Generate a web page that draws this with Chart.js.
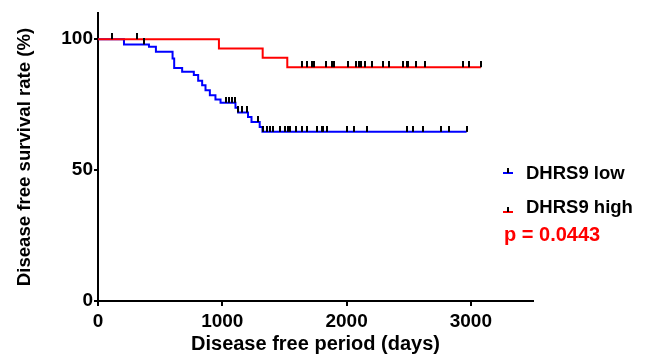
<!DOCTYPE html>
<html>
<head>
<meta charset="utf-8">
<script src="https://cdn.jsdelivr.net/npm/chart.js@4.4.1/dist/chart.umd.min.js"></script>
<style>
  body { margin: 0; background: #fff; }
  #wrap { position: relative; width: 650px; height: 359px; font-family: "Liberation Sans", Arial, sans-serif; font-weight: bold; }
  .leg { position: absolute; line-height: 1; white-space: nowrap; }
  .sym { position: absolute; width: 10px; height: 2px; }
  .sym i { position: absolute; left: 4px; top: -4px; width: 2px; height: 5px; background: #000; }
</style>
</head>
<body>
<div id="wrap">
  <canvas id="km" width="650" height="359"></canvas>
  <div class="sym" style="left:503px; top:172px; background:#0000ff"><i></i></div>
  <div class="leg" style="left:526px; top:163.6px; font-size:18.5px; color:#000">DHRS9 low</div>
  <div class="sym" style="left:503px; top:211px; background:#ff0000"><i></i></div>
  <div class="leg" style="left:526px; top:198.3px; font-size:18.5px; color:#000">DHRS9 high</div>
  <div class="leg" style="left:504px; top:223.8px; font-size:20px; color:#ff0000">p = 0.0443</div>
</div>
<script>
// Kaplan-Meier steps (days, survival %)
const lowTimes = [0, 209, 410, 466, 600, 613, 677, 771, 806, 838, 865, 900, 945, 986, 1106, 1127, 1207, 1235, 1301, 1323, 2966];
const lowSurv = [100, 98.0, 97.1, 95.2, 92.6, 89.0, 87.6, 86.3, 84.1, 82.4, 80.5, 78.6, 77.0, 75.7, 73.8, 72.0, 70.3, 68.4, 66.5, 64.6, 64.6];
const lowCensored = [115, 372, 1027, 1056, 1080, 1100, 1129, 1156, 1200, 1290,
    1330, 1357, 1384, 1411, 1464, 1504, 1531, 1545, 1590, 1639, 1679, 1760, 1800, 1810, 1840,
    2006, 2062, 2162, 2483, 2536, 2617, 2759, 2824, 2966];

const highTimes = [0, 973, 1325, 1523, 3081];
const highSurv = [100, 96.4, 92.9, 89.3, 89.3];
const highCensored = [316, 1639, 1679, 1724, 1740, 1832, 1880, 1899, 2009, 2075, 2099, 2115, 2148,
    2202, 2295, 2343, 2456, 2483, 2496, 2558, 2631, 2934, 2987, 3081];

const xTicks = [0, 1000, 2000, 3000];
const yTicks = [0, 50, 100];

function levelAt(times, surv, t) {
    let s = surv[0];
    for (let i = 0; i < times.length; i++) {
        if (times[i] <= t) s = surv[i];
    }
    return s;
}

function stepPoints(times, surv) {
    return times.map((t, i) => ({ x: t, y: surv[i] }));
}

function censorPoints(times, surv, cens) {
    return cens.map(t => ({ x: t, y: levelAt(times, surv, t) }));
}

// censor mark: short vertical tick rising from the curve
const tick = document.createElement('canvas');
tick.width = 2;
tick.height = 12;
const tctx = tick.getContext('2d');
tctx.fillStyle = '#000';
tctx.fillRect(0, 0, 2, 6);

const ctx = document.getElementById('km').getContext('2d');

const km = new Chart(ctx, {
    type: 'line',
    data: {
        datasets: [{
            label: 'DHRS9 low',
            data: stepPoints(lowTimes, lowSurv),
            borderColor: '#0000ff',
            borderWidth: 2,
            stepped: true,
            pointRadius: 0,
            fill: false,
            order: 3
        },
        {
            label: 'DHRS9 high',
            data: stepPoints(highTimes, highSurv),
            borderColor: '#ff0000',
            borderWidth: 2,
            stepped: true,
            pointRadius: 0,
            fill: false,
            order: 2
        },
        {
            label: 'low censored',
            data: censorPoints(lowTimes, lowSurv, lowCensored),
            showLine: false,
            pointStyle: tick,
            order: 1
        },
        {
            label: 'high censored',
            data: censorPoints(highTimes, highSurv, highCensored),
            showLine: false,
            pointStyle: tick,
            order: 1
        }
        ]
    },
    options: {
        responsive: false,
        animation: false,
        layout: {
            padding: { left: 0, right: 117, top: 13, bottom: 0 }
        },
        plugins: {
            legend: { display: false },
            tooltip: { enabled: false }
        },
        scales: {
            x: {
                type: 'linear',
                min: 0,
                max: 3500,
                afterFit: s => { s.height = 58; },
                afterBuildTicks: s => { s.ticks = xTicks.map(v => ({ value: v })); },
                border: { display: true, color: '#000', width: 2 },
                grid: { drawOnChartArea: false, drawTicks: true, tickLength: 5, color: '#000', lineWidth: 2 },
                ticks: {
                    color: '#000',
                    padding: 4,
                    maxRotation: 0,
                    callback: v => String(v),
                    font: { family: 'Liberation Sans, Arial', size: 19, weight: 'bold' }
                },
                title: {
                    display: true,
                    text: 'Disease free period (days)',
                    color: '#000',
                    padding: { top: 0, bottom: 3 },
                    font: { family: 'Liberation Sans, Arial', size: 20, weight: 'bold' }
                }
            },
            y: {
                min: 0,
                max: 110,
                afterFit: s => { s.width = 98; },
                afterBuildTicks: s => { s.ticks = yTicks.map(v => ({ value: v })); },
                border: { display: true, color: '#000', width: 2 },
                grid: { drawOnChartArea: false, drawTicks: true, tickLength: 4, color: '#000', lineWidth: 2 },
                ticks: {
                    color: '#000',
                    padding: 1,
                    callback: v => String(v),
                    font: { family: 'Liberation Sans, Arial', size: 19, weight: 'bold' }
                },
                title: {
                    display: true,
                    text: 'Disease free survival rate (%)',
                    color: '#000',
                    padding: { top: 14, bottom: 0 },
                    font: { family: 'Liberation Sans, Arial', size: 18.6, weight: 'bold' }
                }
            }
        }
    }
});
</script>
</body>
</html>
